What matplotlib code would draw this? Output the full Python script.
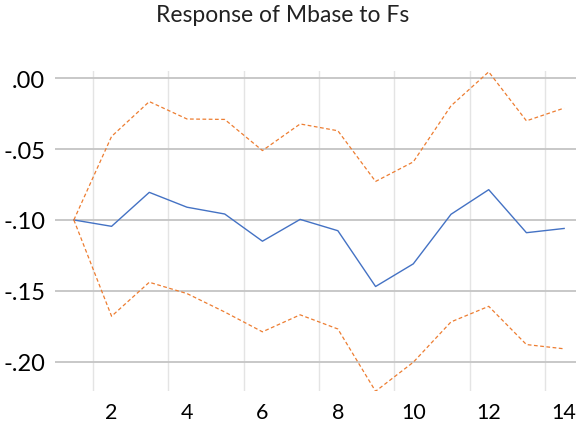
import matplotlib
matplotlib.use("Agg")
import matplotlib.pyplot as plt

# ---- data ----
periods = list(range(1, 15))
response = [-0.100, -0.1045, -0.0805, -0.091, -0.0958, -0.115, -0.0996,
            -0.1076, -0.147, -0.131, -0.096, -0.0786, -0.109, -0.106]
upper_band = [-0.100, -0.041, -0.0164, -0.0287, -0.029, -0.051, -0.0322,
              -0.037, -0.0728, -0.059, -0.0194, 0.0046, -0.030, -0.021]
lower_band = [-0.100, -0.168, -0.144, -0.152, -0.165, -0.179, -0.167,
              -0.177, -0.221, -0.2005, -0.172, -0.161, -0.188, -0.191]
xtick_values = [2, 4, 6, 8, 10, 12, 14]
ytick_values = [-0.20, -0.15, -0.10, -0.05, 0.00]
ytick_labels = ['-.20', '-.15', '-.10', '-.05', '.00']
title = "Response of Mbase to Fs"

plt.rcParams['font.family'] = ['Lato', 'DejaVu Sans']

W, H = 576, 427
fig = plt.figure(figsize=(W / 100, H / 100), dpi=100)
ax = fig.add_axes([55 / W, 1 - 392 / H, 528 / W, 320 / H])

ax.plot(periods, response, color='#4472C4', lw=1.0, zorder=3)
ax.plot(periods, upper_band, color='#ED7D31', lw=0.9, ls=(0, (3, 2)), zorder=3)
ax.plot(periods, lower_band, color='#ED7D31', lw=0.9, ls=(0, (3, 2)), zorder=3)

ax.set_xlim(0.5, 14.5)
ax.set_ylim(-0.2208, 0.0052)

ax.set_xticks(xtick_values)
ax.set_yticks(ytick_values)
ax.set_yticklabels(ytick_labels)

ax.grid(False)
for v in [v - 0.5 for v in xtick_values]:
    ax.axvline(v, color='#e4e4e4', lw=1.0, zorder=1)
for v in ytick_values:
    ax.axhline(v, color='#c4c4c4', lw=1.3, zorder=2)

for s in ax.spines.values():
    s.set_visible(False)
ax.tick_params(axis='both', which='both', length=0, colors='black')
ax.tick_params(axis='y', pad=7, labelsize=17)
ax.tick_params(axis='x', pad=8, labelsize=15.5)

fig.text(283 / W, 1 - 15 / H, title, ha='center', va='center', fontsize=16.5, color='#222222')

fig.savefig('out.png', dpi=100)
